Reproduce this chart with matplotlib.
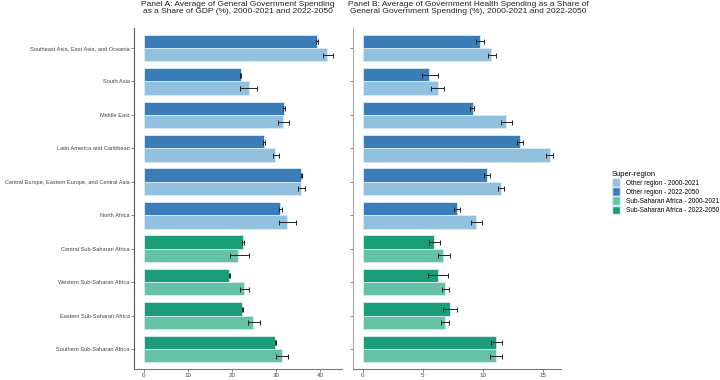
import matplotlib
matplotlib.use("Agg")
import matplotlib.pyplot as plt
from matplotlib.patches import Patch
import numpy as np

plt.rcParams['font.family'] = ['Liberation Sans', 'DejaVu Sans']

regions = ["Southeast Asia, East Asia, and Oceania", "South Asia", "Middle East",
           "Latin America and Caribbean", "Central Europe, Eastern Europe, and Central Asia",
           "North Africa", "Central Sub-Saharan Africa", "Western Sub-Saharan Africa",
           "Eastern Sub-Saharan Africa", "Southern Sub-Saharan Africa"]
is_ssa = [False, False, False, False, False, False, True, True, True, True]

# Panel A: general government spending as share of GDP (%)
a_past = [41.6, 23.8, 31.7, 29.9, 35.7, 32.6, 21.3, 22.8, 24.9, 31.4]
a_past_lo = [40.6, 21.9, 30.5, 29.3, 35.0, 30.7, 19.6, 21.9, 23.7, 30.1]
a_past_hi = [43.0, 25.8, 32.9, 30.7, 36.6, 34.6, 23.9, 23.8, 26.4, 32.7]
a_fut = [39.4, 22.0, 31.8, 27.3, 35.7, 30.9, 22.5, 19.4, 22.4, 29.9]
a_fut_lo = [39.2, 21.9, 31.6, 27.1, 35.6, 30.6, 22.3, 19.3, 22.3, 29.7]
a_fut_hi = [39.6, 22.1, 32.0, 27.5, 35.9, 31.3, 22.7, 19.5, 22.5, 30.1]

# Panel B: government health spending as share of general government spending (%)
b_past = [10.7, 6.25, 11.95, 15.56, 11.5, 9.42, 6.72, 6.86, 6.83, 11.06]
b_past_lo = [10.4, 5.7, 11.5, 15.25, 11.3, 9.0, 6.28, 6.58, 6.5, 10.56]
b_past_hi = [11.06, 6.8, 12.45, 15.8, 11.75, 9.95, 7.25, 7.2, 7.22, 11.6]
b_fut = [9.73, 5.56, 9.14, 13.06, 10.36, 7.86, 5.95, 6.28, 7.25, 11.08]
b_fut_lo = [9.45, 4.9, 8.9, 12.8, 10.1, 7.6, 5.5, 5.4, 6.7, 10.67]
b_fut_hi = [10.08, 6.3, 9.3, 13.3, 10.6, 8.1, 6.4, 7.08, 7.86, 11.6]

legend_labels = ["Other region - 2000-2021", "Other region - 2022-2050",
                 "Sub-Saharan Africa - 2000-2021", "Sub-Saharan Africa - 2022-2050"]
colors = {"other_past": "#92c0df", "other_fut": "#3a7db9",
          "ssa_past": "#66c2a5", "ssa_fut": "#1b9e77"}

titles = ["Panel A: Average of General Government Spending\nas a Share of GDP (%), 2000-2021 and 2022-2050",
          "Panel B: Average of Government Health Spending as a Share of\nGeneral Government Spending (%), 2000-2021 and 2022-2050"]

fig = plt.figure(figsize=(7.2, 3.8), dpi=100)
bottom = 1 - 369 / 380
top = 1 - 28 / 380
axA = fig.add_axes([134 / 720, bottom, 208 / 720, top - bottom])
axB = fig.add_axes([353 / 720, bottom, 208 / 720, top - bottom])

y = np.arange(len(regions))
h = 0.4

def draw(ax, past, plo, phi, fut, flo, fhi, xlim, ticks, show_labels, title, title_x, left_spine_color):
    cp = [colors["ssa_past"] if s else colors["other_past"] for s in is_ssa]
    cf = [colors["ssa_fut"] if s else colors["other_fut"] for s in is_ssa]
    ax.barh(y - h / 2, fut, height=h, color=cf, edgecolor="#d8ecf5", linewidth=0.6)
    ax.barh(y + h / 2, past, height=h, color=cp, edgecolor="#d8ecf5", linewidth=0.6)
    fut = np.array(fut); past = np.array(past)
    ax.errorbar(fut, y - h / 2, xerr=[fut - np.array(flo), np.array(fhi) - fut],
                fmt="none", ecolor="#222222", elinewidth=0.7, capsize=1.8, capthick=0.7)
    ax.errorbar(past, y + h / 2, xerr=[past - np.array(plo), np.array(phi) - past],
                fmt="none", ecolor="#222222", elinewidth=0.7, capsize=1.8, capthick=0.7)
    ax.set_xlim(*xlim)
    ax.set_ylim(9.6, -0.6)
    ax.set_yticks(y)
    if show_labels:
        ax.set_yticklabels(regions, fontsize=4.1, color="#444444")
    else:
        ax.set_yticklabels([])
    ax.set_xticks(ticks)
    ax.set_xticklabels([str(t) for t in ticks], fontsize=4.5, color="#444444")
    ax.tick_params(axis="both", length=2, width=0.5, color="#555555", pad=1.2)
    for s in ["top", "right"]:
        ax.spines[s].set_visible(False)
    ax.spines["left"].set_color(left_spine_color)
    ax.spines["bottom"].set_color("#777777")
    ax.spines["left"].set_linewidth(0.8)
    ax.spines["bottom"].set_linewidth(0.8)
    fig.text(title_x / 720, 1 - 1 / 380, title, ha="center", va="top",
             fontsize=6.0, color="#222222", linespacing=1.05)

draw(axA, a_past, a_past_lo, a_past_hi, a_fut, a_fut_lo, a_fut_hi,
     (-2.2, 45), [0, 10, 20, 30, 40], True, titles[0], 237.5, "#555555")
draw(axB, b_past, b_past_lo, b_past_hi, b_fut, b_fut_lo, b_fut_hi,
     (-0.8, 16.5), [0, 5, 10, 15], False, titles[1], 468, "#aaaaaa")

handles = [Patch(facecolor=colors["other_past"], edgecolor="#d8ecf5"),
           Patch(facecolor=colors["other_fut"], edgecolor="#d8ecf5"),
           Patch(facecolor=colors["ssa_past"], edgecolor="#d8ecf5"),
           Patch(facecolor=colors["ssa_fut"], edgecolor="#d8ecf5")]
fig.legend(handles, legend_labels, title="Super-region", loc="upper left",
           bbox_to_anchor=(606 / 720, 1 - 165 / 380), frameon=False, fontsize=4.7,
           title_fontsize=5.5, handlelength=1.3, handleheight=1.7,
           handletextpad=0.8, labelspacing=0.05, alignment="left")

fig.savefig("out.png", dpi=100)
